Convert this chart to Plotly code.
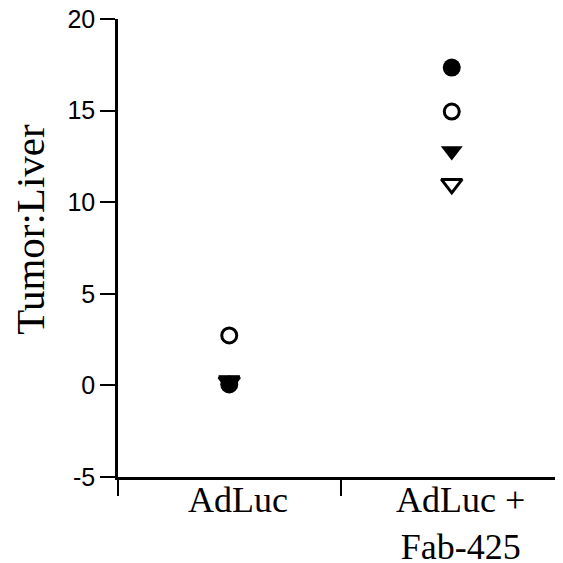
import plotly.graph_objects as go

groups = ["AdLuc", "AdLuc +<br>Fab-425"]
group_pos = [0.5, 1.5]

filled_circle = [0.05, 17.35]
open_circle = [2.73, 14.95]
filled_triangle = [0.3, 12.8]
open_triangle = [0.2, 11.0]

y_ticks = [-5, 0, 5, 10, 15, 20]
y_tick_text = ["-5", "0", "5", "10", "15", "20"]

fig = go.Figure()

fig.add_trace(go.Scatter(x=group_pos, y=open_triangle, mode="markers",
                         marker=dict(symbol="triangle-down-open", size=18, color="black",
                                     line=dict(width=3, color="black"))))
fig.add_trace(go.Scatter(x=group_pos, y=filled_triangle, mode="markers",
                         marker=dict(symbol="triangle-down", size=19, color="black",
                                     line=dict(width=0))))
fig.add_trace(go.Scatter(x=group_pos, y=filled_circle, mode="markers",
                         marker=dict(symbol="circle", size=18, color="black",
                                     line=dict(width=0))))
fig.add_trace(go.Scatter(x=group_pos, y=open_circle, mode="markers",
                         marker=dict(symbol="circle-open", size=15, color="black",
                                     line=dict(width=3, color="black"))))

for gx, label in zip(group_pos, groups):
    fig.add_annotation(x=gx + 0.04, y=0, xref="x", yref="paper", text=label,
                       showarrow=False, xanchor="center", yanchor="top", yshift=-1,
                       font=dict(family="Liberation Serif", size=36, color="black"))

fig.add_annotation(x=0, y=0.54, xref="paper", yref="paper", text="Tumor:Liver",
                   textangle=-90, showarrow=False, xanchor="center", yanchor="middle",
                   xshift=-88,
                   font=dict(family="Liberation Serif", size=41, color="black"))

fig.update_layout(
    width=563, height=563,
    margin=dict(l=110, r=8, t=11, b=94, autoexpand=False),
    paper_bgcolor="white", plot_bgcolor="white",
    showlegend=False,
    xaxis=dict(range=[0, 2], tickvals=[0, 1, 2], ticktext=["", "", ""],
               automargin=False,
               ticks="outside", ticklen=16, tickwidth=2, tickcolor="black",
               showline=True, linewidth=2.5, linecolor="black",
               showgrid=False, zeroline=False),
    yaxis=dict(range=[-5, 20], tickvals=y_ticks, ticktext=y_tick_text,
               ticklabeloverflow="allow", automargin=False,
               ticks="outside", ticklen=15, tickwidth=2, tickcolor="black",
               showline=True, linewidth=2.5, linecolor="black",
               showgrid=False, zeroline=False,
               tickfont=dict(family="Liberation Sans", size=25, color="black")),
)

fig.write_html("out.html")
